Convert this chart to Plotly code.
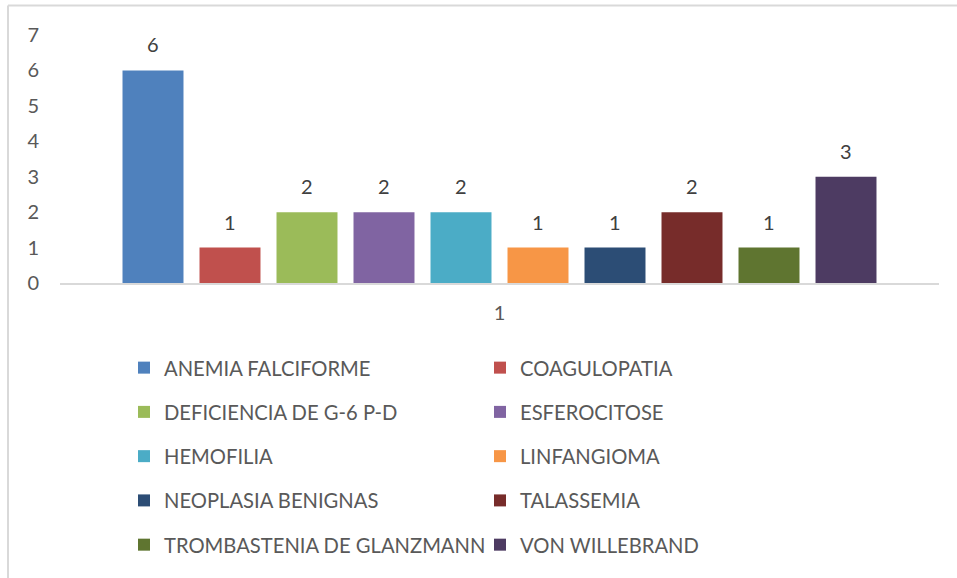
import plotly.graph_objects as go

categories = ["1"]
series_names = [
    "ANEMIA FALCIFORME", "COAGULOPATIA", "DEFICIENCIA DE G-6 P-D", "ESFEROCITOSE",
    "HEMOFILIA", "LINFANGIOMA", "NEOPLASIA BENIGNAS", "TALASSEMIA",
    "TROMBASTENIA DE GLANZMANN", "VON WILLEBRAND",
]
series_values = [6, 1, 2, 2, 2, 1, 1, 2, 1, 3]
colors = ["#4F81BD", "#C0504D", "#9BBB59", "#8064A2", "#4BACC6",
          "#F79646", "#2C4D75", "#772C2A", "#5F7530", "#4D3B62"]
y_ticks = [0, 1, 2, 3, 4, 5, 6, 7]

W, H = 957, 578
ML, MR, MT, MB = 60, 18, 35, 295
plot_w = W - ML - MR
plot_h = H - MT - MB
BARGAP = 0.124
FONT = "Lato"

fig = go.Figure()
n = len(series_names)
for i, (name, val) in enumerate(zip(series_names, series_values)):
    fig.add_trace(go.Bar(
        x=categories, y=[val], name=name,
        marker=dict(color=colors[i], line=dict(width=0)),
        legend="legend" if i % 2 == 0 else "legend2",
        legendgroup=name,
        hoverinfo="name+y",
    ))

slot_px = plot_w * (1 - BARGAP) / n
annotations = []
for i, val in enumerate(series_values):
    annotations.append(dict(
        x=0, y=val, xref="x", yref="y", text=str(val), showarrow=False,
        xshift=(i - (n - 1) / 2) * slot_px, yshift=12, yanchor="bottom",
        font=dict(family=FONT, size=20, color="#404040"),
    ))

def px_to_paper_x(px):
    return (px - ML) / plot_w

def px_to_paper_y(py):
    return (H - MB - py) / plot_h

shapes = [
    dict(type="line", xref="paper", yref="paper",
         x0=px_to_paper_x(8), x1=px_to_paper_x(8),
         y0=px_to_paper_y(5.5), y1=px_to_paper_y(580),
         line=dict(color="#D9D9D9", width=2)),
    dict(type="line", xref="paper", yref="paper",
         x0=px_to_paper_x(8), x1=px_to_paper_x(960),
         y0=px_to_paper_y(5.5), y1=px_to_paper_y(5.5),
         line=dict(color="#D9D9D9", width=2)),
]

legend_common = dict(
    orientation="v", yanchor="top", xanchor="left",
    font=dict(family=FONT, size=20.2, color="#595959"),
    tracegroupgap=15, bgcolor="rgba(0,0,0,0)", itemclick=False,
)

fig.update_layout(
    width=W, height=H,
    margin=dict(l=ML, r=MR, t=MT, b=MB),
    paper_bgcolor="white", plot_bgcolor="white",
    barmode="group", bargap=BARGAP, bargroupgap=0.208,
    font=dict(family=FONT, size=20, color="#595959"),
    xaxis=dict(type="category", showline=True, linecolor="#D9D9D9", linewidth=2,
               showgrid=False, ticks="", ticklabelstandoff=11,
               tickfont=dict(family=FONT, size=20, color="#595959")),
    yaxis=dict(range=[0, 7], tickvals=y_ticks, showgrid=False, zeroline=False,
               showline=False, ticks="", ticklabelstandoff=20,
               tickfont=dict(family=FONT, size=20, color="#595959")),
    legend=dict(x=px_to_paper_x(124), y=px_to_paper_y(348), **legend_common),
    legend2=dict(x=px_to_paper_x(480), y=px_to_paper_y(348), **legend_common),
    annotations=annotations,
    shapes=shapes,
    showlegend=True,
)

fig.write_html("out.html", config={"displayModeBar": False},
               post_script="document.body.style.margin='0';document.body.style.overflow='hidden';")
